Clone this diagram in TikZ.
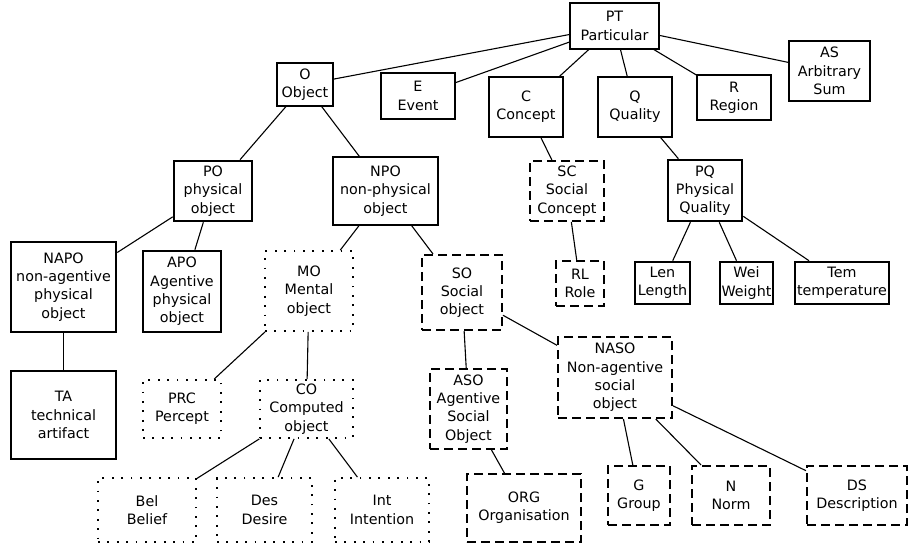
\documentclass[tikz,border=0pt]{standalone}
\usepackage{fontspec}
\setmainfont{DejaVu Sans}
\usepackage{tikz}
\tikzset{
 every node/.style={align=center,inner sep=1pt,font=\fontsize{14.3}{18.3}\selectfont},
 boxsize/.style 2 args={minimum width=#1pt,minimum height=#2pt},
 plainbox/.style={draw,line width=1.1pt},
 physbox/.style={draw,line width=2.6pt},
 socialbox/.style={draw,line width=2pt,dash pattern=on 9pt off 5pt},
 mentalbox/.style={draw,line width=1.8pt,dash pattern=on 1.8pt off 7.6pt},
 every edge/.style={draw,line width=1.1pt}
}

\begin{document}
\begin{tikzpicture}[x=1pt,y=-1pt]
\useasboundingbox (0,0) rectangle (914,546);

\path (614.5,26) node[name=PT,plainbox,boxsize={89}{46}] {PT\\Particular};
\path (305,84.5) node[name=O,plainbox,boxsize={56}{43}] {O\\Object};
\path (418,96) node[name=E,plainbox,boxsize={74}{46}] {E\\Event};
\path (526,107) node[name=C,plainbox,boxsize={74}{60}] {C\\Concept};
\path (635,107) node[name=Q,plainbox,boxsize={74}{60}] {Q\\Quality};
\path (734,97.5) node[name=R,plainbox,boxsize={74}{45}] {R\\Region};
\path (829.5,71) node[name=AS,plainbox,boxsize={81}{60}] {AS\\Arbitrary\\Sum};

\path (213,191) node[name=PO,physbox,boxsize={78}{60}] {PO\\physical\\object};
\path (385.5,191) node[name=NPO,plainbox,boxsize={105}{68}] {NPO\\non-physical\\object};
\path (567,191) node[name=SC,socialbox,boxsize={74}{60}] {SC\\Social\\Concept};
\path (705,190.5) node[name=PQ,physbox,boxsize={74}{61}] {PQ\\Physical\\Quality};

\path (63.5,287) node[name=NAPO,physbox,boxsize={105}{90}] {NAPO\\non-agentive\\physical\\object};
\path (182,291.5) node[name=APO,physbox,boxsize={78}{81}] {APO\\Agentive\\physical\\object};
\path (309,291) node[name=MO,mentalbox,boxsize={88}{80}] {MO\\Mental\\object};
\path (462,292.5) node[name=SO,socialbox,boxsize={80}{75}] {SO\\Social\\object};
\path (580,283.5) node[name=RL,socialbox,boxsize={48}{45}] {RL\\Role};
\path (662.5,283) node[name=Len,physbox,boxsize={55}{42}] {Len\\Length};
\path (746.5,283) node[name=Wei,physbox,boxsize={53}{42}] {Wei\\Weight};
\path (842,283) node[name=Tem,physbox,boxsize={94}{42}] {Tem\\temperature};

\path (63.5,415) node[name=TA,physbox,boxsize={105}{88}] {TA\\technical\\artifact};
\path (182,409) node[name=PRC,mentalbox,boxsize={78}{58}] {PRC\\Percept};
\path (306.5,409) node[name=CO,mentalbox,boxsize={93}{58}] {CO\\Computed\\object};
\path (468.5,409) node[name=ASO,socialbox,boxsize={77}{80}] {ASO\\Agentive\\Social\\Object};
\path (615,377.5) node[name=NASO,socialbox,boxsize={114}{81}] {NASO\\Non-agentive\\social\\object};

\path (147,510) node[name=Bel,mentalbox,boxsize={98}{64}] {Bel\\Belief};
\path (264.5,510) node[name=Des,mentalbox,boxsize={95}{64}] {Des\\Desire};
\path (382,510) node[name=Int,mentalbox,boxsize={94}{64}] {Int\\Intention};
\path (524,508) node[name=ORG,socialbox,boxsize={114}{68}] {ORG\\Organisation};
\path (639,495.5) node[name=G,socialbox,boxsize={62}{59}] {G\\Group};
\path (731,495.5) node[name=N,socialbox,boxsize={78}{59}] {N\\Norm};
\path (857,495.5) node[name=DS,socialbox,boxsize={100}{59}] {DS\\Description};

\path (PT) edge (O);
\path (PT) edge (E);
\path (PT) edge (C);
\path (PT) edge (Q);
\path (PT) edge (R);
\path (PT) edge (AS);

\path (O) edge (PO);
\path (O) edge (NPO);
\path (PO) edge (NAPO);
\path (PO) edge (APO);
\path (NAPO) edge (TA);

\path (NPO) edge (MO);
\path (NPO) edge (SO);
\path (MO) edge (PRC);
\path (MO) edge (CO);
\path (CO) edge (Bel);
\path (CO) edge (Des);
\path (CO) edge (Int);

\path (SO) edge (ASO);
\path (SO) edge (NASO);
\path (ASO) edge (ORG);
\path (NASO) edge (G);
\path (NASO) edge (N);
\path (NASO) edge (DS);

\path (C) edge (SC);
\path (SC) edge (RL);
\path (Q) edge (PQ);
\path (PQ) edge (Len);
\path (PQ) edge (Wei);
\path (PQ) edge (Tem);

\end{tikzpicture}
\end{document}
